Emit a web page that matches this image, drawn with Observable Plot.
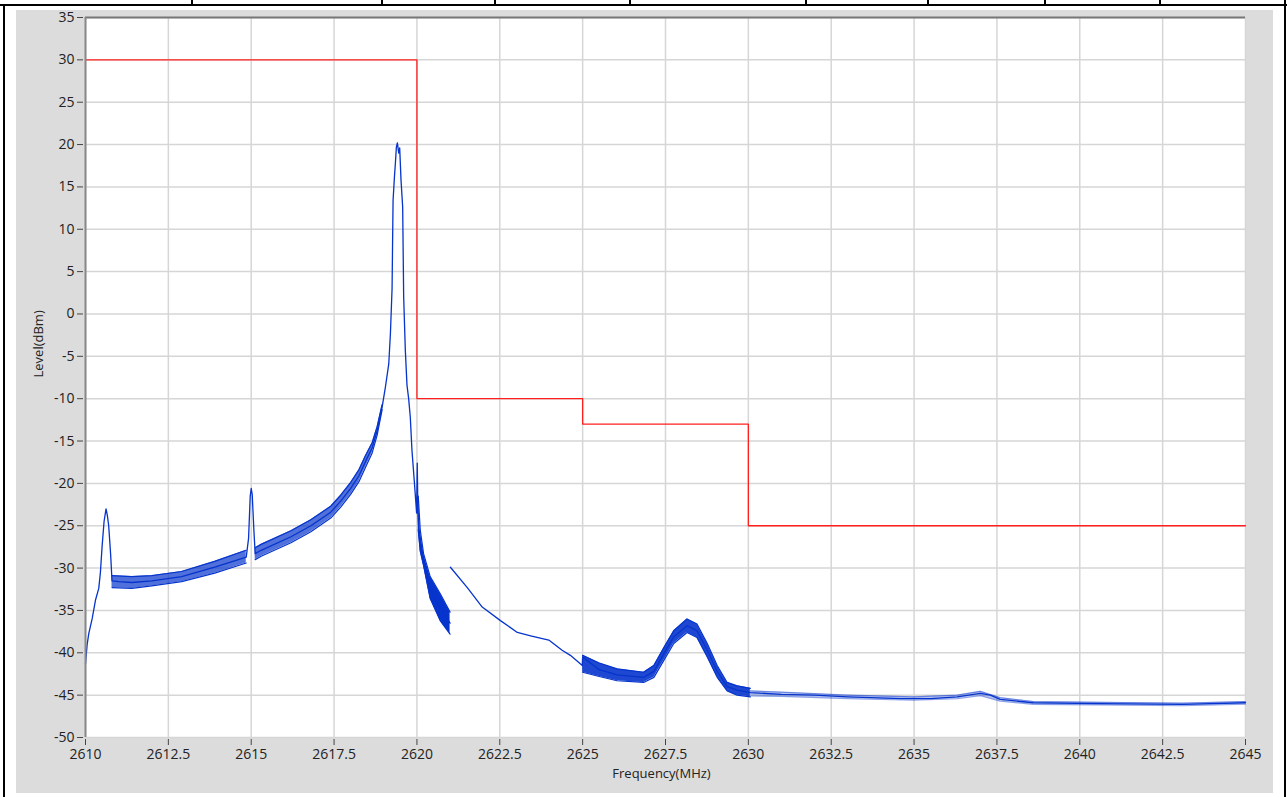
<!DOCTYPE html>
<html>
<head>
<meta charset="utf-8">
<script src="https://cdn.jsdelivr.net/npm/d3@7"></script>
<script src="https://cdn.jsdelivr.net/npm/@observablehq/plot@0.6"></script>
<style>
  html, body { margin: 0; padding: 0; background: #ffffff; }
  #page { position: relative; width: 1287px; height: 797px; overflow: hidden; background: #fff; }
  .bl { position: absolute; background: #000; }
  #panel { position: absolute; left: 16px; top: 10px; width: 1257px; height: 783px; background: #dcdcdc; }
  #panel svg { overflow: visible; }
</style>
</head>
<body>
<div id="page">
  <div class="bl" style="left:0;top:4px;width:1287px;height:2px"></div>
  <div class="bl" style="left:3px;top:4px;width:2px;height:793px"></div>
  <div class="bl" style="left:1284px;top:0;width:2px;height:797px"></div>
  <div id="ticks-top"></div>
  <div id="panel"></div>
</div>
<script>
// ---------- data ----------
const topCellBorders = [192, 382, 495, 630, 806, 928, 1045, 1160];

const xTicks = [2610, 2612.5, 2615, 2617.5, 2620, 2622.5, 2625, 2627.5, 2630, 2632.5, 2635, 2637.5, 2640, 2642.5, 2645];
const yTicks = [-50, -45, -40, -35, -30, -25, -20, -15, -10, -5, 0, 5, 10, 15, 20, 25, 30, 35];

// limit mask (red)
const limitFreq  = [2610, 2620, 2625, 2630, 2645];
const limitLevel = [30, -10, -13, -25, -25];

// measured trace, centre line (MHz, dBm); null = gap
const traceFreq = [
  2610.00, 2610.05, 2610.10, 2610.20, 2610.30, 2610.40, 2610.45, 2610.50, 2610.56, 2610.62,
  2610.66, 2610.70, 2610.76, 2610.80, 2611.00, 2611.40, 2612.00, 2612.90, 2613.90, 2614.85,
  2614.92, 2614.97, 2615.00, 2615.03, 2615.08, 2615.12, 2615.30, 2616.20, 2616.80, 2617.40,
  2617.70, 2618.00, 2618.25, 2618.45, 2618.65, 2618.80, 2618.95, 2619.05, 2619.15, 2619.20,
  2619.25, 2619.28, 2619.32, 2619.35, 2619.38, 2619.41, 2619.45, 2619.48, 2619.52, 2619.57,
  2619.60, 2619.65, 2619.70, 2619.75, 2619.80, 2619.85, 2619.92, 2619.97, 2619.99, 2620.01,
  2620.03, 2620.06, 2620.20, 2620.40, 2620.70, 2621.00, null,
  2621.01, 2621.52, 2621.97, 2622.52, 2623.03, 2623.43, 2623.98, 2624.38, 2624.63, 2624.99,
  2625.00, 2625.50, 2626.04, 2626.84, 2627.15, 2627.45, 2627.75, 2628.15, 2628.45, 2628.76,
  2629.06, 2629.36, 2629.66, 2630.06, 2631.00, 2632.00, 2633.00, 2634.60, 2635.50, 2636.30,
  2637.00, 2637.30, 2637.60, 2638.60, 2640.60, 2643.10, 2645.00
];
const traceLevel = [
  -41.3, -39.0, -37.7, -36.0, -33.8, -32.4, -30.5, -27.5, -24.5, -23.0,
  -23.8, -25.0, -28.5, -31.5, -31.6, -31.7, -31.5, -31.0, -29.9, -28.7,
  -26.5, -21.5, -20.6, -21.3, -25.5, -28.3, -27.9, -26.3, -25.0, -23.4,
  -22.1, -20.6, -19.1, -17.4, -15.8, -13.8, -11.0, -8.6, -5.9, -2.3,
  3.0, 13.4, 16.1, 17.8, 19.7, 20.2, 19.0, 19.6, 15.8, 12.6,
  2.0, -4.3, -8.4, -10.0, -12.2, -16.1, -19.7, -22.4, -23.5, -17.6,
  -23.6, -25.8, -29.0, -32.3, -34.6, -36.5, null,
  -29.9, -32.3, -34.6, -36.2, -37.6, -38.0, -38.5, -39.7, -40.3, -41.5,
  -40.5, -42.0, -42.6, -42.9, -42.2, -40.1, -38.1, -36.8, -37.4, -39.7,
  -42.2, -44.0, -44.4, -44.7, -44.9, -45.0, -45.2, -45.4, -45.4, -45.2,
  -44.8, -45.0, -45.5, -45.9, -46.0, -46.1, -45.9
];

// ripple envelope, low side of the spectrum (zig-zag band)
const zigFreq = [2610.80, 2611.40, 2612.00, 2612.90, 2613.90, 2614.85, null,
                 2615.12, 2615.30, 2616.20, 2616.80, 2617.40, 2617.70, 2618.00, 2618.25, 2618.45, 2618.65, 2618.80, 2618.95];
const zigLow  = [-32.3, -32.4, -32.1, -31.6, -30.6, -29.4, null,
                 -29.0, -28.6, -27.0, -25.7, -24.1, -22.8, -21.3, -19.8, -18.1, -16.4, -14.3, -11.3];
const zigHigh = [-30.9, -31.0, -30.9, -30.4, -29.2, -27.9, null,
                 -27.6, -27.2, -25.6, -24.3, -22.7, -21.4, -19.9, -18.4, -16.7, -15.2, -13.3, -10.7];

// dense ripple just above 2620 MHz
const denseFreq = [2620.04, 2620.10, 2620.20, 2620.40, 2620.70, 2621.00];
const denseLow  = [-25.5, -28.0, -29.7, -33.6, -36.2, -37.8];
const denseHigh = [-21.5, -25.5, -28.3, -31.0, -33.0, -35.2];

// ripple band 2625–2630 MHz (with hump at 2628 MHz)
const humpFreq = [2625.00, 2625.50, 2626.04, 2626.84, 2627.15, 2627.45, 2627.75, 2628.15, 2628.45, 2628.76, 2629.06, 2629.36, 2629.66, 2630.06];
const humpLow  = [-42.3, -42.8, -43.3, -43.5, -42.9, -40.9, -38.9, -37.6, -38.2, -40.5, -42.9, -44.5, -45.0, -45.2];
const humpHigh = [-40.3, -41.2, -41.9, -42.3, -41.5, -39.4, -37.4, -36.0, -36.6, -38.9, -41.5, -43.5, -43.9, -44.2];

// noise band of the tail
const tailFreq = [2630.06, 2631.0, 2633.0, 2635.0, 2636.3, 2637.0, 2637.6, 2638.6, 2640.6, 2643.1, 2645.0];
const tailLow  = [-45.1, -45.15, -45.4, -45.6, -45.4, -45.05, -45.7, -46.1, -46.15, -46.25, -46.05];
const tailHigh = [-44.5, -44.65, -45.0, -45.2, -45.0, -44.55, -45.3, -45.75, -45.85, -45.95, -45.75];

// ---------- build ----------
const BLUE = "#0634cc";
const RED = "#ff1f1f";
const FONT = "'Open Sans', 'Noto Sans', sans-serif";

const tt = document.getElementById("ticks-top");
topCellBorders.forEach(x => {
  const d = document.createElement("div");
  d.className = "bl";
  d.style.cssText = `left:${x - 1}px;top:0;width:2px;height:5px`;
  tt.appendChild(d);
});

const pts = (fs, ys) => fs.map((f, i) => ({f, v: ys[i]}));
const band = (fs, lo, hi) => fs.map((f, i) => ({f, lo: lo[i], hi: hi[i]}));

const trace = pts(traceFreq, traceLevel);
const limit = pts(limitFreq, limitLevel);
const zig = band(zigFreq, zigLow, zigHigh);
const dense = band(denseFreq, denseLow, denseHigh);
const hump = band(humpFreq, humpLow, humpHigh);
const tail = band(tailFreq, tailLow, tailHigh);

function bandMarks(data, op, edgeOp) {
  return [
    Plot.areaY(data, {x: "f", y1: "lo", y2: "hi", fill: BLUE, fillOpacity: op}),
    Plot.line(data, {x: "f", y: "lo", stroke: BLUE, strokeWidth: 1.2, strokeOpacity: edgeOp}),
    Plot.line(data, {x: "f", y: "hi", stroke: BLUE, strokeWidth: 1.2, strokeOpacity: edgeOp})
  ];
}

const chart = Plot.plot({
  width: 1257,
  height: 783,
  marginLeft: 69,
  marginRight: 28,
  marginTop: 7,
  marginBottom: 56,
  x: {domain: [2610, 2645]},
  y: {domain: [-50, 35]},
  style: {background: "transparent", fontFamily: FONT, fontSize: "14px", color: "#222", overflow: "visible"},
  marks: [
    Plot.frame({fill: "white", stroke: null}),
    Plot.gridX({ticks: xTicks, stroke: "#d6d6d6", strokeOpacity: 1, strokeWidth: 1.5}),
    Plot.gridY({ticks: yTicks, stroke: "#d6d6d6", strokeOpacity: 1, strokeWidth: 1.5}),
    ...bandMarks(zig, 0.7, 1),
    ...bandMarks(dense, 1, 1),
    ...bandMarks(hump, 0.9, 1),
    ...bandMarks(tail, 0.3, 0.45),
    Plot.line(trace, {x: "f", y: "v", stroke: BLUE, strokeWidth: 1.3}),
    Plot.line(limit, {x: "f", y: "v", stroke: RED, strokeWidth: 1.3, curve: "step-after"}),
    Plot.ruleY([35], {stroke: "#777", strokeWidth: 2}),
    Plot.ruleX([2610], {stroke: "#888", strokeWidth: 2}),
    Plot.axisY({ticks: yTicks, tickSize: 6, tickPadding: 3, dx: -2, tickFormat: d => String(d),
                stroke: "#444", fill: "#222", label: null, fontSize: 14}),
    Plot.axisX({ticks: xTicks, tickSize: 6, tickPadding: 4, dy: 2, tickFormat: d => String(d),
                stroke: "#444", fill: "#222", label: null, fontSize: 14}),
    Plot.text(["Frequency(MHz)"], {frameAnchor: "bottom", dy: 40, dx: -4, fontSize: 13, fill: "#222"}),
    Plot.text(["Level(dBm)"], {frameAnchor: "left", rotate: -90, dx: -47, fontSize: 13, fill: "#222"})
  ]
});
document.getElementById("panel").appendChild(chart);
</script>
</body>
</html>
